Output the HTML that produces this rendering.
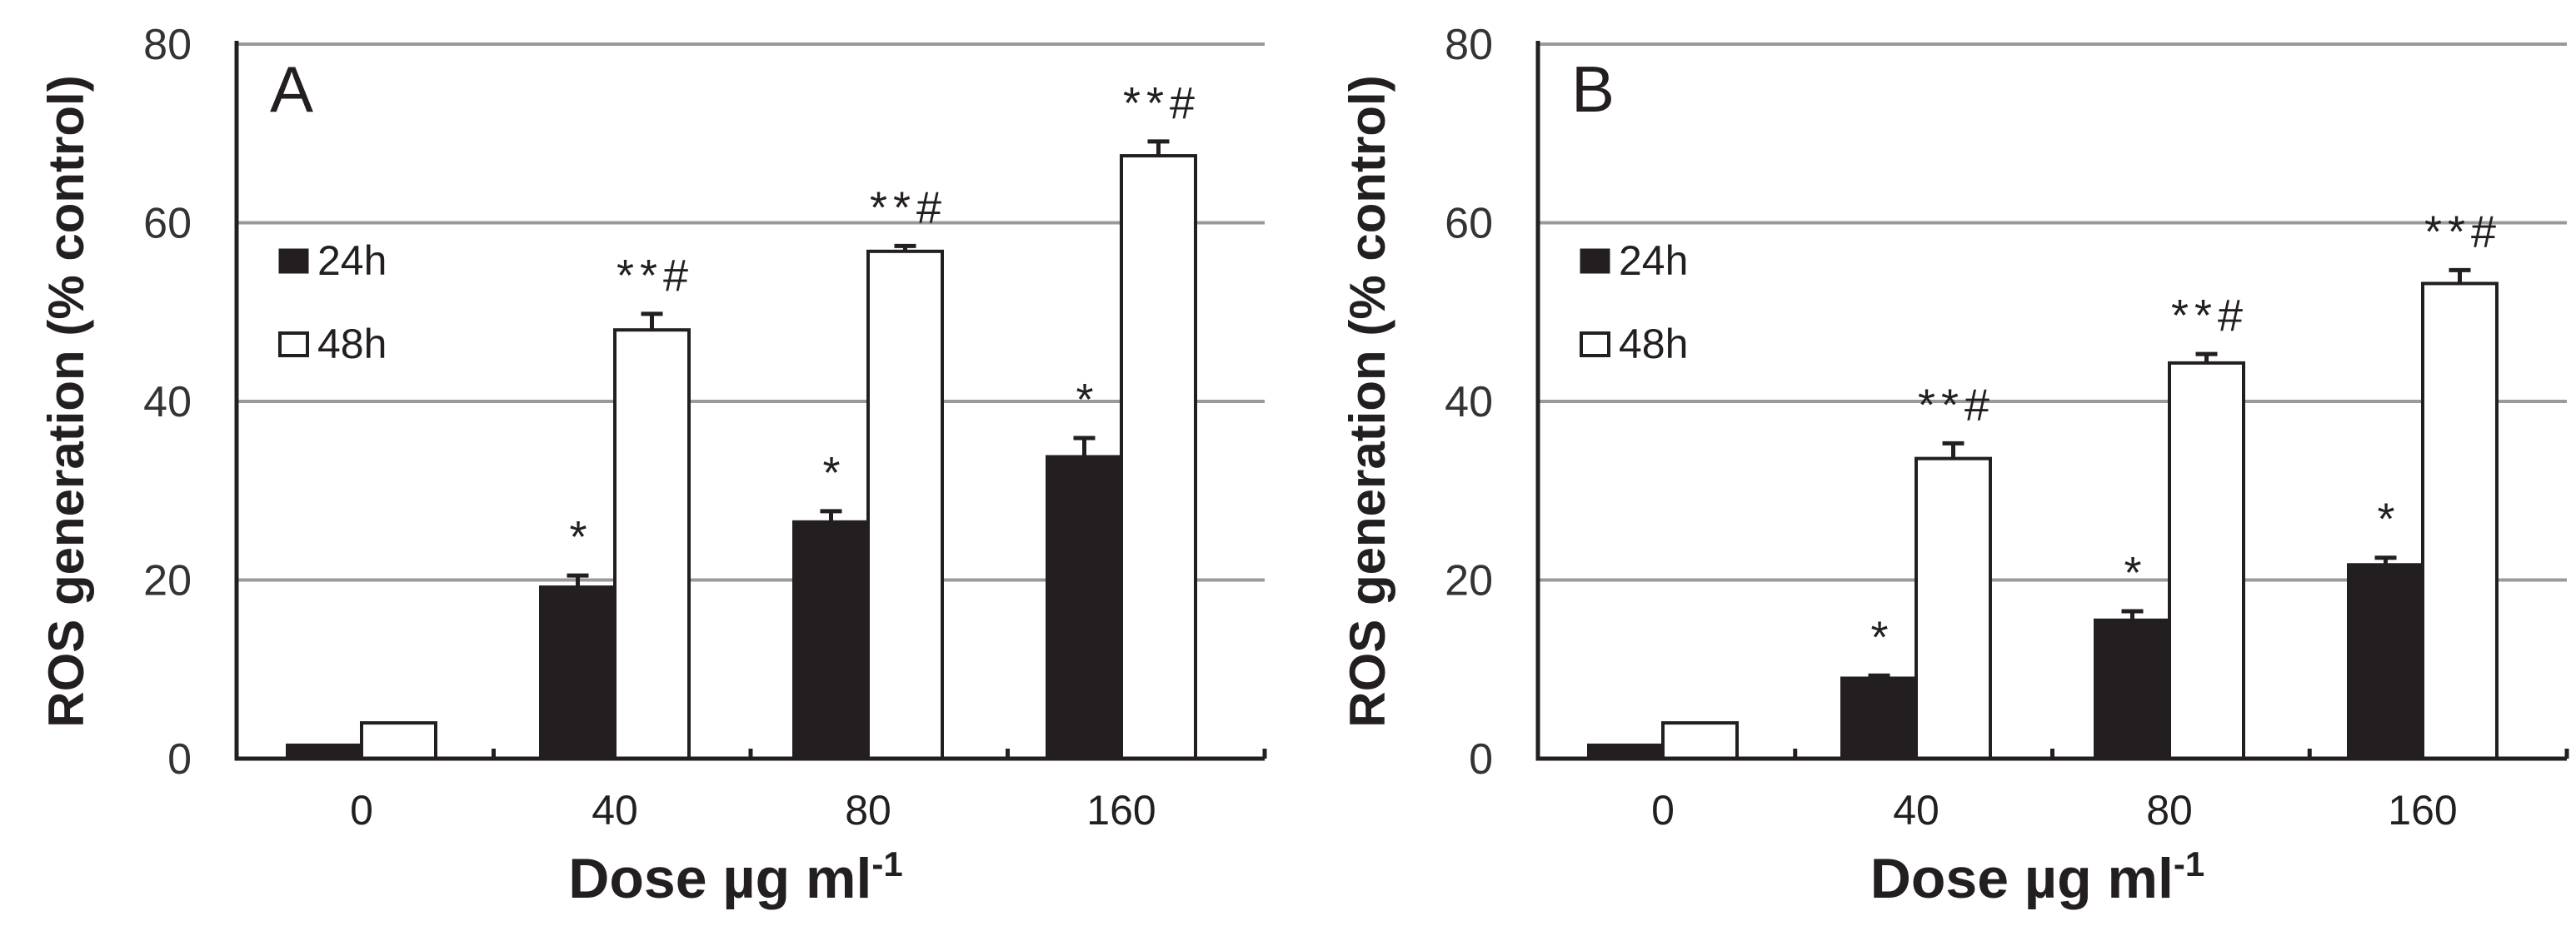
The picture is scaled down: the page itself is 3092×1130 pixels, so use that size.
<!DOCTYPE html>
<html><head><meta charset="utf-8"><style>
html,body{margin:0;padding:0;background:#fff;}
svg{display:block;font-family:"Liberation Sans",Arial,sans-serif;}
</style></head><body>
<svg id="chart" width="3092" height="1130" viewBox="0 0 3092 1130"></svg>
<script>
const categories = ["0","40","80","160"];
const yTicks = [0,20,40,60,80];
const aVals24 = [1.5,19.2,26.5,33.8];
const aVals48 = [4.0,48.0,56.8,67.5];
const aErr24 = [0,1.3,1.2,2.1];
const aErr48 = [0,1.8,0.6,1.6];
const bVals24 = [1.5,9.0,15.5,21.7];
const bVals48 = [4.0,33.6,44.3,53.2];
const bErr24 = [0,0.3,1.0,0.8];
const bErr48 = [0,1.7,1.0,1.5];
const aSig24 = ["","*","*","*"];
const aSig48 = ["","**#","**#","**#"];
const bSig24 = ["","*","*","*"];
const bSig48 = ["","**#","**#","**#"];

const NS = "http://www.w3.org/2000/svg";
const svg = document.getElementById("chart");
function mk(tag, attrs, parent, text){
  const e = document.createElementNS(NS, tag);
  for (const k in attrs) e.setAttribute(k, attrs[k]);
  if (text !== undefined) e.textContent = text;
  (parent||svg).appendChild(e);
  return e;
}

function panel(letter, x0, x1, v24, v48, e24, e48, s24, s48){
  const g = mk("g", {});
  
  
  const y0 = 911, yTop = 53;
  const ys = v => y0 - (v/80)*(y0-yTop);
  const gw = (x1-x0)/categories.length;
  const xc = i => x0 + 150 + 304*i;
  const bw = 89;
  yTicks.forEach(t=>{
    if (t>0){
      const l = mk("line",{x1:x0,x2:x1,y1:ys(t),y2:ys(t),stroke:"#9a9a9a","stroke-width":4},g);
      
      
    }
    const tl = mk("text",{x:x0-54,y:ys(t)+18,"text-anchor":"end","font-size":52,fill:"#333"},g,String(t));
    
    
  });
  categories.forEach((c,i)=>{
    const cx = xc(i);
    [[v24,e24,s24,"#231f20","24h",-1],[v48,e48,s48,"#fff","48h",0]].forEach(([vals,errs,sig,fill,name,off])=>{
      const bx = cx + off*bw;
      const top = ys(vals[i]);
      const r = mk("rect",{x:bx,y:top,width:bw,height:y0-top,fill:fill,stroke:"#231f20","stroke-width":4},g);
      
      
      let etop = top;
      if (errs[i]>0){
        etop = ys(vals[i]+errs[i]);
        const m = bx+bw/2;
        const el = mk("path",{d:`M${m} ${top} V${etop} M${m-13} ${etop} H${m+13}`,stroke:"#231f20","stroke-width":5,fill:"none"},g);
        
        
      }
      if (sig[i]){
        const st = mk("text",{x:bx+bw/2+4,y:etop-28,"text-anchor":"middle","font-size":54,fill:"#231f20","letter-spacing":7},g,sig[i]);
        
        
      }
    });
    const cl = mk("text",{x:cx,y:990,"text-anchor":"middle","font-size":50,fill:"#231f20"},g,c);
    
    
  });
  let tk = "";
  for (let i=1;i<=categories.length;i++){ const x=x0+gw*i; tk += `M${x} ${y0} V${y0-12} `; }
  const ax = mk("path",{d:`M${x0} ${yTop-4} V${y0} H${x1} ${tk}`,stroke:"#231f20","stroke-width":5,fill:"none"},g);
  
  
  const pl = mk("text",{x:x0+40,y:134,"font-size":78,fill:"#231f20"},g,letter);
  
  
  const lx = x0+52;
  const r1 = mk("rect",{x:lx,y:300,width:33,height:27,fill:"#231f20",stroke:"#231f20","stroke-width":3},g);
  
  
  const t1 = mk("text",{x:lx+45,y:330,"font-size":50,fill:"#231f20"},g,"24h");
  
  
  const r2 = mk("rect",{x:lx,y:400,width:33,height:27,fill:"#fff",stroke:"#231f20","stroke-width":4},g);
  
  
  const t2 = mk("text",{x:lx+45,y:430,"font-size":50,fill:"#231f20"},g,"48h");
  
  
  const yt = mk("text",{x:0,y:0,transform:`translate(${x0-184},${(y0+yTop)/2}) rotate(-90)`,"text-anchor":"middle","font-size":60,"font-weight":"bold",fill:"#231f20"},g,"ROS generation (% control)");
  
  
  const xt = mk("text",{x:(x0+x1)/2-18,y:1078,"text-anchor":"middle","font-size":68,"font-weight":"bold",fill:"#231f20"},g);
  
  
  xt.appendChild(document.createTextNode("Dose µg ml"));
  const sup = mk("tspan",{dy:-26,"font-size":42},xt,"-1");
  
  
}
panel("A", 284, 1518, aVals24, aVals48, aErr24, aErr48, aSig24, aSig48);
panel("B", 1846, 3081, bVals24, bVals48, bErr24, bErr48, bSig24, bSig48);
</script>
</body></html>
